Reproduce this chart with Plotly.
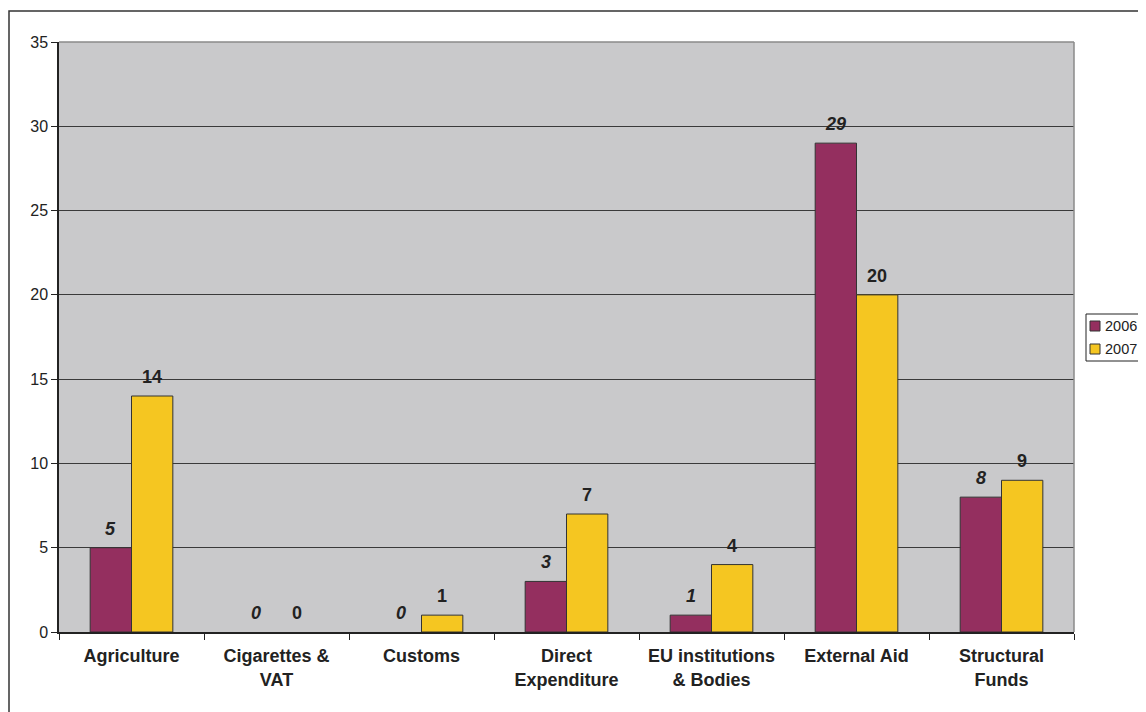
import plotly.graph_objects as go

categories = ["Agriculture", "Cigarettes &<br>VAT", "Customs", "Direct<br>Expenditure",
              "EU institutions<br>& Bodies", "External Aid", "Structural<br>Funds"]
series_names = ["2006", "2007"]
values_2006 = [5, 0, 0, 3, 1, 29, 8]
values_2007 = [14, 0, 1, 7, 4, 20, 9]
y_ticks = [0, 5, 10, 15, 20, 25, 30, 35]

C2006 = "#942F5F"
C2007 = "#F5C621"
FONT = "Liberation Sans, Arial, sans-serif"
TXT = "#222"

# Page body has an 8px margin; figure coordinates = screen - 8
W, H = 1138, 704
L, R, T, B = 51, 72, 34, 80
pw = W - L - R
ph = H - T - B


def px(x):
    return (x - L) / pw


def py(y):
    return (H - B - y) / ph


fig = go.Figure()
fig.add_bar(x=categories, y=values_2006, name=series_names[0], showlegend=False,
            marker=dict(color=C2006, line=dict(color="#333", width=[1 if v else 0 for v in values_2006])))
fig.add_bar(x=categories, y=values_2007, name=series_names[1], showlegend=False,
            marker=dict(color=C2007, line=dict(color="#333", width=[1 if v else 0 for v in values_2007])))

group_w = pw / len(categories)
bargap = 0.43
bar_w = group_w * (1 - bargap) / 2

for c, v in zip(categories, values_2006):
    fig.add_annotation(x=c, y=v, text=f"<b><i>{v}</i></b>", showarrow=False, xref="x", yref="y",
                       xshift=-bar_w / 2, yshift=7, yanchor="bottom",
                       font=dict(family=FONT, size=18, color=TXT))
for c, v in zip(categories, values_2007):
    fig.add_annotation(x=c, y=v, text=f"<b>{v}</b>", showarrow=False, xref="x", yref="y",
                       xshift=bar_w / 2, yshift=7, yanchor="bottom",
                       font=dict(family=FONT, size=18, color=TXT))

# plot area top & right border (gray)
fig.add_shape(type="line", xref="paper", yref="paper", x0=0, x1=1, y0=1, y1=1,
              line=dict(color="#8a8a8a", width=1.5), layer="above")
fig.add_shape(type="line", xref="paper", yref="paper", x0=1, x1=1, y0=0, y1=1,
              line=dict(color="#8a8a8a", width=1.5), layer="above")
# outer chart border
fig.add_shape(type="rect", xref="paper", yref="paper",
              x0=px(1), x1=px(1150), y0=py(716), y1=py(3),
              line=dict(color="#333", width=1.5))

# legend box (drawn)
fig.add_shape(type="rect", xref="paper", yref="paper",
              x0=px(1078), x1=px(1150), y0=py(353), y1=py(306),
              line=dict(color="#222", width=1), fillcolor="white")
for i, (name, col) in enumerate(zip(series_names, [C2006, C2007])):
    yc = 318 + i * 23
    fig.add_shape(type="rect", xref="paper", yref="paper",
                  x0=px(1082), x1=px(1092), y0=py(yc + 5), y1=py(yc - 5),
                  line=dict(color="#333", width=1), fillcolor=col)
    fig.add_annotation(x=px(1095), y=py(yc), xref="paper", yref="paper", text=name,
                       showarrow=False, xanchor="left", yanchor="middle",
                       font=dict(family=FONT, size=14.5, color=TXT))

fig.update_layout(
    width=W, height=H,
    margin=dict(l=L, r=R, t=T, b=B, autoexpand=False),
    paper_bgcolor="white",
    plot_bgcolor="#C9C9CB",
    barmode="group", bargap=bargap, bargroupgap=0,
    font=dict(family=FONT, size=14, color=TXT),
    showlegend=False,
    xaxis=dict(type="category", showline=True, linecolor="#222", linewidth=1.5,
               ticks="outside", tickson="boundaries", ticklen=6, tickcolor="#222",
               ticklabelstandoff=7,
               tickfont=dict(family=FONT, size=18, color=TXT, weight="bold"),
               showgrid=False, automargin=False),
    yaxis=dict(range=[0, 35], tickvals=y_ticks, showline=True, linecolor="#222", linewidth=1.5,
               ticks="outside", ticklen=6, tickcolor="#222",
               showgrid=True, gridcolor="#3a3a3a", gridwidth=1, zeroline=False,
               tickfont=dict(family=FONT, size=16, color=TXT), automargin=False),
)

fig.write_html("out.html")
